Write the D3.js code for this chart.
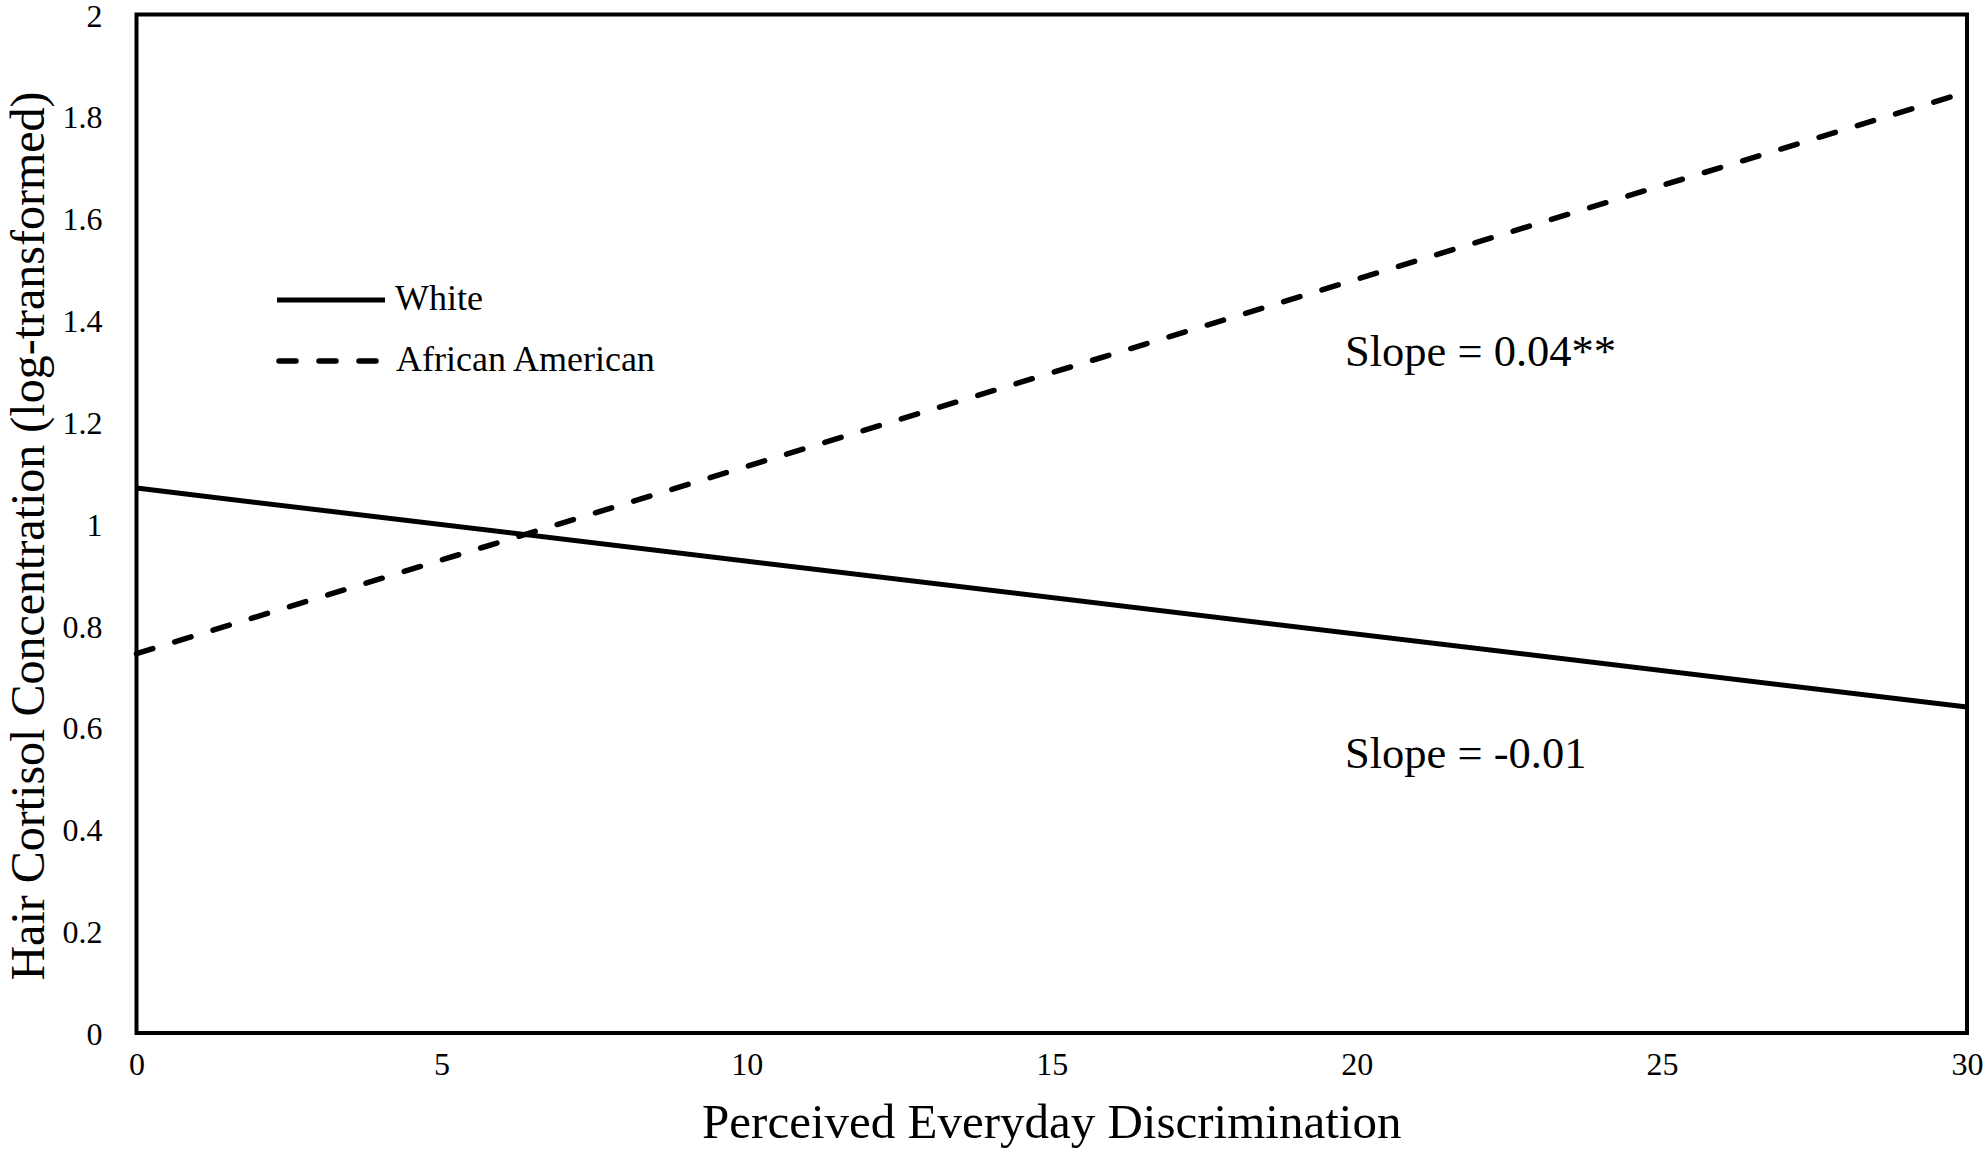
<!DOCTYPE html>
<html>
<head>
<meta charset="utf-8">
<script src="https://cdn.jsdelivr.net/npm/d3@7"></script>
<style>
  html, body { margin: 0; padding: 0; background: #ffffff; }
  svg { display: block; }
</style>
</head>
<body>
<svg id="chart" width="1985" height="1155"></svg>
<script>
// ---- Data ----
const xValues = [0, 30];
const whiteValues = [1.07, 0.64];
const africanAmericanValues = [0.745, 1.848];
const seriesNames = ["White", "African American"];
const xTicks = [0, 5, 10, 15, 20, 25, 30];
const yTicks = [0, 0.2, 0.4, 0.6, 0.8, 1, 1.2, 1.4, 1.6, 1.8, 2];
const yTickLabels = ["0", "0.2", "0.4", "0.6", "0.8", "1", "1.2", "1.4", "1.6", "1.8", "2"];
const xTitle = "Perceived Everyday Discrimination";
const yTitle = "Hair Cortisol Concentration (log-transformed)";
const slopeLabels = ["Slope = 0.04**", "Slope = -0.01"];

// ---- Layout ----
const FONT = "'Liberation Serif', 'Times New Roman', Times, serif";
const plot = { left: 136.5, right: 1967, top: 14.5, bottom: 1033 };

const svg = d3.select("#chart");

const x = d3.scaleLinear().domain([0, 30]).range([plot.left, plot.right]);
const y = d3.scaleLinear().domain([0, 2]).range([plot.bottom, plot.top]);

// Y axis (labels only)
const yAxis = d3.axisLeft(y)
  .tickValues(yTicks)
  .tickSize(0)
  .tickPadding(34)
  .tickFormat((d, i) => yTickLabels[i]);
const gy = svg.append("g")
  .attr("transform", `translate(${plot.left},0)`)
  .call(yAxis);
gy.select(".domain").remove();
gy.selectAll("text")
  .attr("font-family", FONT)
  .attr("font-size", 32)
  .attr("fill", "#000")
  .attr("dy", "0.36em");

// X axis (labels only)
const xAxis = d3.axisBottom(x)
  .tickValues(xTicks)
  .tickSize(0)
  .tickPadding(0)
  .tickFormat(d3.format("d"));
const gx = svg.append("g")
  .attr("transform", `translate(0,${plot.bottom})`)
  .call(xAxis);
gx.select(".domain").remove();
gx.selectAll("text")
  .attr("font-family", FONT)
  .attr("font-size", 32)
  .attr("fill", "#000")
  .attr("y", 42)
  .attr("dy", 0);

// Frame
svg.append("rect")
  .attr("x", plot.left)
  .attr("y", plot.top)
  .attr("width", plot.right - plot.left)
  .attr("height", plot.bottom - plot.top)
  .attr("fill", "none")
  .attr("stroke", "#000")
  .attr("stroke-width", 4);

// Lines
const line = d3.line()
  .x(d => x(d[0]))
  .y(d => y(d[1]));

const whiteData = xValues.map((v, i) => [v, whiteValues[i]]);
const aaData = xValues.map((v, i) => [v, africanAmericanValues[i]]);

svg.append("path")
  .datum(whiteData)
  .attr("d", line)
  .attr("fill", "none")
  .attr("stroke", "#000")
  .attr("stroke-width", 5);

svg.append("path")
  .datum(aaData)
  .attr("d", line)
  .attr("fill", "none")
  .attr("stroke", "#000")
  .attr("stroke-width", 5.5)
  .attr("stroke-linecap", "round")
  .attr("stroke-dasharray", "17,23");

// Legend
const legend = svg.append("g").attr("font-family", FONT).attr("font-size", 36);
legend.append("line")
  .attr("x1", 277).attr("x2", 385).attr("y1", 300).attr("y2", 300)
  .attr("stroke", "#000").attr("stroke-width", 5);
legend.append("text").attr("x", 395).attr("y", 310).text(seriesNames[0]);
legend.append("line")
  .attr("x1", 279).attr("x2", 380).attr("y1", 361).attr("y2", 361)
  .attr("stroke", "#000").attr("stroke-width", 5.5)
  .attr("stroke-linecap", "round")
  .attr("stroke-dasharray", "17,23");
legend.append("text").attr("x", 396).attr("y", 371).text(seriesNames[1]);

// Slope annotations
svg.append("text")
  .attr("x", 1345).attr("y", 366)
  .attr("font-family", FONT).attr("font-size", 44.5)
  .text(slopeLabels[0]);
svg.append("text")
  .attr("x", 1345).attr("y", 768)
  .attr("font-family", FONT).attr("font-size", 44.5)
  .text(slopeLabels[1]);

// Axis titles
svg.append("text")
  .attr("x", (plot.left + plot.right) / 2)
  .attr("y", 1138)
  .attr("text-anchor", "middle")
  .attr("font-family", FONT).attr("font-size", 49)
  .text(xTitle);

svg.append("text")
  .attr("transform", `translate(44, 536) rotate(-90)`)
  .attr("text-anchor", "middle")
  .attr("font-family", FONT).attr("font-size", 48)
  .text(yTitle);
</script>
</body>
</html>
